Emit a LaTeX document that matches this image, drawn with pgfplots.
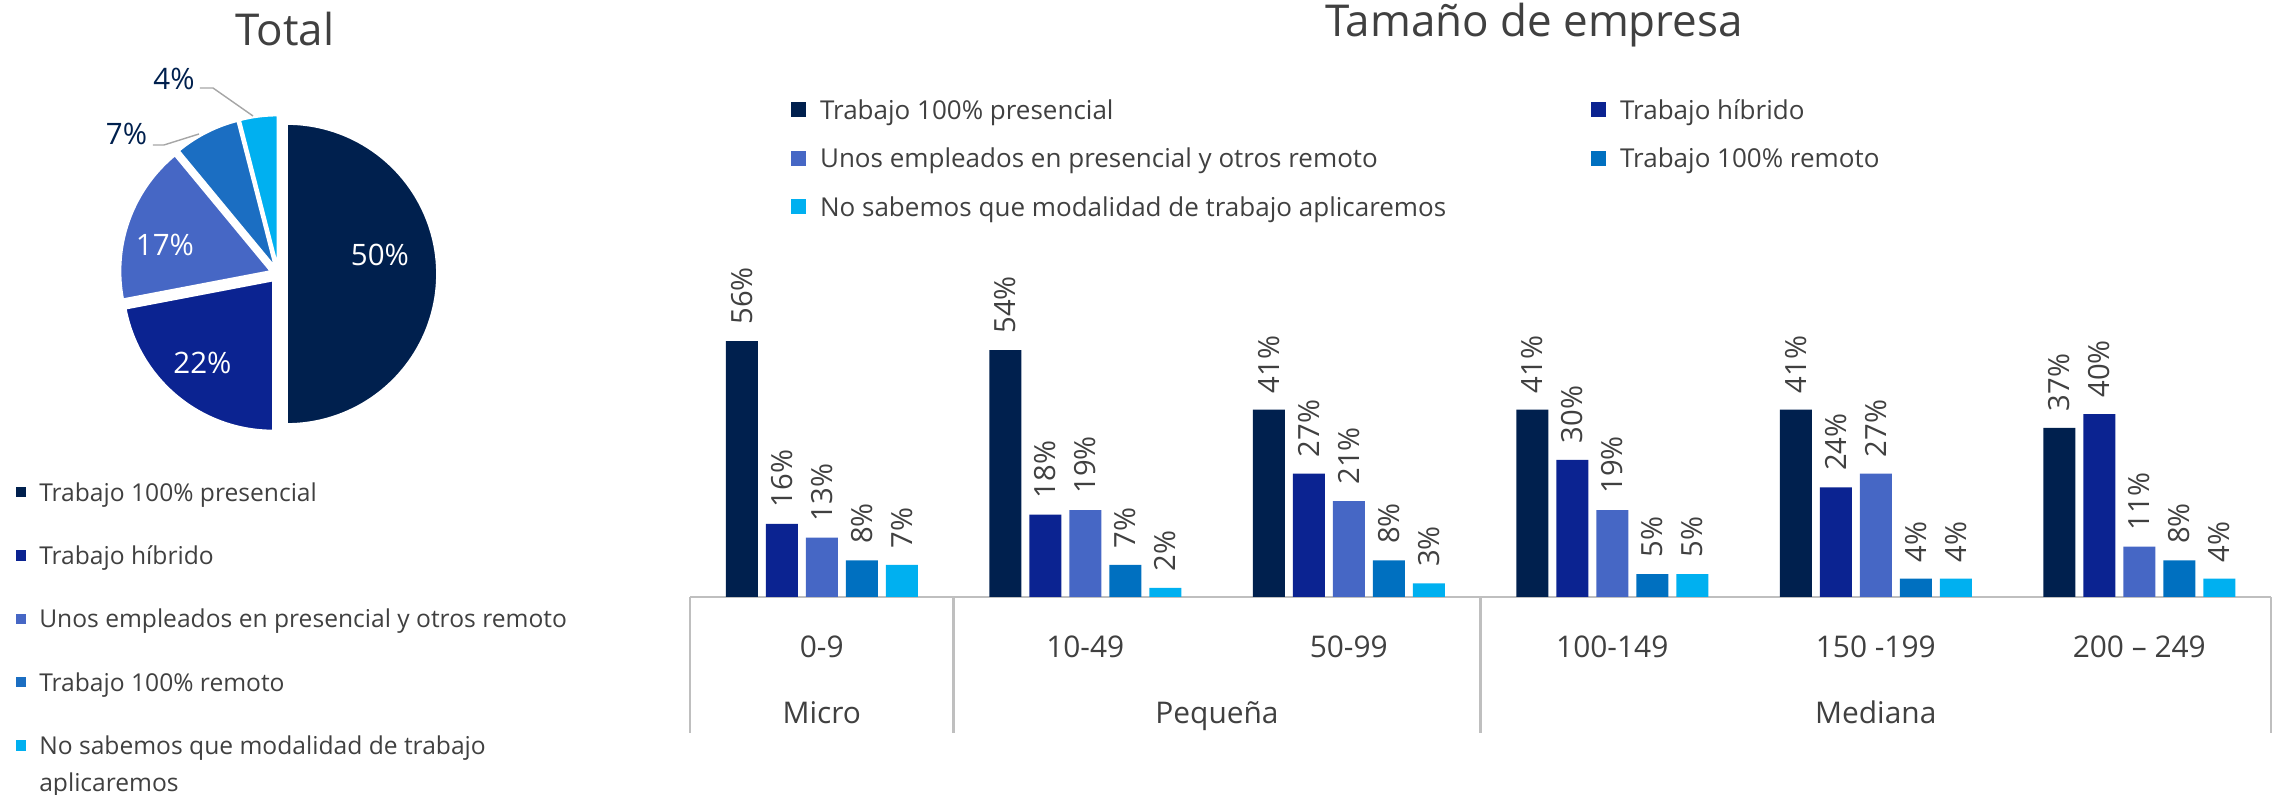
\documentclass[border=0pt]{standalone}
\usepackage{fontspec}
\setmainfont{Open Sans}
\usepackage{pgfplots}
\pgfplotsset{compat=1.18}

\definecolor{c1}{HTML}{00204E}
\definecolor{c2}{HTML}{0B2391}
\definecolor{c3}{HTML}{4667C5}
\definecolor{c4}{HTML}{0070C0}
\definecolor{c4p}{HTML}{1B6EC2}
\definecolor{c5}{HTML}{00B0F0}
\definecolor{txt}{HTML}{404040}
\definecolor{rulegray}{HTML}{BFBFBF}
\definecolor{leader}{HTML}{A6A6A6}

% pie slice: colour, share before it (%), its share (%)
\newcommand{\pieslice}[3]{%
  \pgfmathsetmacro{\angA}{90-3.6*#2}%
  \pgfmathsetmacro{\angB}{90-3.6*(#2+#3)}%
  \pgfmathsetmacro{\angM}{(\angA+\angB)/2}%
  \pgfmathsetmacro{\pdx}{0.085*cos(\angM)}%
  \pgfmathsetmacro{\pdy}{0.085*sin(\angM)}%
  \edef\doslice{\noexpand\addplot[fill=#1, draw=white, line width=0.5pt,
      domain=\angB:\angA, samples=90]
    ({\pdx+1.5*cos(x)}, {\pdy+1.5*sin(x)}) -- (axis cs:\pdx,\pdy) -- cycle;}%
  \doslice
}

\begin{document}
\begin{tikzpicture}
\useasboundingbox (0,0) rectangle (22.75cm,7.95cm);

% ---------- pie: Total ----------
\begin{axis}[
  at={(2.785cm,5.21cm)}, anchor=center,
  x=1cm, y=1cm, xmin=-1.7, xmax=1.7, ymin=-1.7, ymax=1.7,
  hide axis, clip=false,
  legend image code/.code={\fill[#1] (0cm,0.031cm) rectangle (0.12cm,0.151cm);},
  legend style={at={(-0.2765,-0.089)}, anchor=north west, draw=none, fill=none,
    inner sep=0pt, outer sep=0pt, row sep=0.24cm,
    font=\fontsize{7}{10.5}\selectfont, text=txt,
    cells={anchor=base west, inner sep=0pt, text height=0.2cm, text depth=0.07cm},
    /tikz/every odd column/.append style={column sep=0.04cm}},
]
\pieslice{c1}{0}{50}
\addlegendentry{Trabajo 100\% presencial}
\pieslice{c2}{50}{22}
\addlegendentry{Trabajo híbrido}
\pieslice{c3}{72}{17}
\addlegendentry{Unos empleados en presencial y otros remoto}
\pieslice{c4p}{89}{7}
\addlegendentry{Trabajo 100\% remoto}
\pieslice{c5}{96}{4}
\addlegendentry{\begin{tabular}[t]{@{}l@{}}No sabemos que modalidad de trabajo\\aplicaremos\end{tabular}}

\addplot[leader, line width=0.4pt, forget plot] coordinates {(-1.255,1.29) (-1.145,1.29) (-0.795,1.40)};
\addplot[leader, line width=0.4pt, forget plot] coordinates {(-0.785,1.86) (-0.655,1.86) (-0.255,1.58)};

\begin{scope}[every node/.style={font=\fontsize{8.4}{10}\selectfont, anchor=center, inner sep=0pt}]
\node[text=white] at (axis cs:1.015,0.19) {50\%};
\node[text=white] at (axis cs:-0.76,-0.89) {22\%};
\node[text=white] at (axis cs:-1.135,0.29) {17\%};
\node[text=c1] at (axis cs:-1.52,1.40) {7\%};
\node[text=c1] at (axis cs:-1.045,1.955) {4\%};
\end{scope}
\end{axis}

% ---------- bars: Tamaño de empresa ----------
\begin{axis}[
  at={(6.90cm,1.98cm)}, anchor=south west,
  x=2.635cm, y=0.0457cm,
  xmin=-0.5, xmax=5.5, ymin=0, ymax=60,
  axis x line*=bottom, axis y line=none,
  x axis line style={draw=rulegray, line width=0.6pt},
  ybar=0.08cm, bar width=0.32cm,
  clip=false,
  xtick={0,1,2,3,4,5},
  xticklabels={0-9,10-49,50-99,100-149,150 -199,200 – 249},
  major tick length=0pt,
  xticklabel style={anchor=base, yshift=-0.605cm, font=\fontsize{8.5}{10}\selectfont, text=txt},
  extra x ticks={-0.5,0.5,2.5,5.5},
  extra x tick labels={},
  extra x tick style={major tick length=1.36cm, tick align=outside,
    tick style={draw=rulegray, line width=0.6pt}},
  /pgf/number format/assume math mode=true,
  nodes near coords={\pgfmathprintnumber[fixed,precision=0]{\pgfplotspointmeta}\%},
  nodes near coords style={rotate=90, anchor=west, inner xsep=4.5pt,
    font=\fontsize{8.3}{10}\selectfont, text=txt},
  legend image code/.code={\fill[#1] (0cm,0.02cm) rectangle (0.15cm,0.17cm);},
  legend columns=2,
  legend style={at={(0.0639,1.844)}, anchor=north west, draw=none, fill=none,
    inner sep=0pt, outer sep=0pt, row sep=0.08cm,
    font=\fontsize{7.4}{9}\selectfont, text=txt,
    cells={anchor=base west, inner sep=0pt, text height=0.21cm, text depth=0.07cm},
    /tikz/every odd column/.append style={column sep=0.07cm},
    /tikz/every even column/.append style={column sep=0.24cm}},
]
\addplot[fill=c1, draw=none] coordinates {(0,56) (1,54) (2,41) (3,41) (4,41) (5,37)};
\addlegendentry{\makebox[7.4cm][l]{Trabajo 100\% presencial}}
\addplot[fill=c2, draw=none] coordinates {(0,16) (1,18) (2,27) (3,30) (4,24) (5,40)};
\addlegendentry{Trabajo híbrido}
\addplot[fill=c3, draw=none] coordinates {(0,13) (1,19) (2,21) (3,19) (4,27) (5,11)};
\addlegendentry{\makebox[7.4cm][l]{Unos empleados en presencial y otros remoto}}
\addplot[fill=c4, draw=none] coordinates {(0,8) (1,7) (2,8) (3,5) (4,4) (5,8)};
\addlegendentry{Trabajo 100\% remoto}
\addplot[fill=c5, draw=none] coordinates {(0,7) (1,2) (2,3) (3,5) (4,4) (5,4)};
\addlegendentry{\makebox[7.4cm][l]{No sabemos que modalidad de trabajo aplicaremos}}

\begin{scope}[every node/.style={font=\fontsize{8.5}{10}\selectfont, text=txt, anchor=base}]
\node at (axis cs:0,0) [yshift=-1.27cm] {Micro};
\node at (axis cs:1.5,0) [yshift=-1.27cm] {Pequeña};
\node at (axis cs:4,0) [yshift=-1.27cm] {Mediana};
\end{scope}
\end{axis}

\node[font=\fontsize{12.5}{15}\selectfont, text=txt, anchor=base] at (2.85cm,7.49cm) {Total};
\node[font=\fontsize{12.5}{15}\selectfont, text=txt, anchor=base] at (15.34cm,7.58cm) {Tamaño de empresa};
\end{tikzpicture}
\end{document}
